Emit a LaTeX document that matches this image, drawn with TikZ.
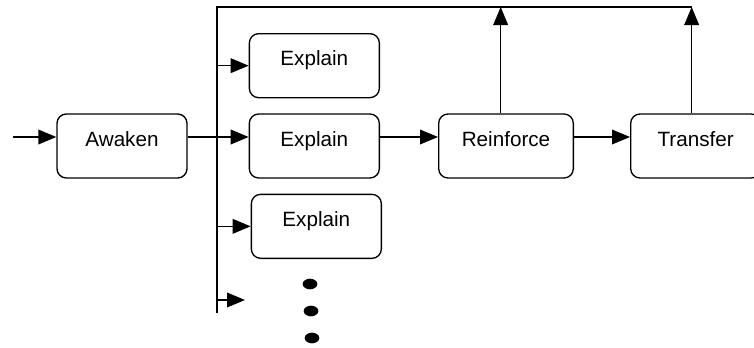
\documentclass[tikz,border=0pt]{standalone}
\usepackage{fontspec}
\setmainfont{Liberation Sans}
\usetikzlibrary{positioning,arrows.meta}

\tikzset{
    stage/.style={draw, rectangle, rounded corners=7pt, line width=1pt,
        minimum width=97.5pt, minimum height=48pt, text height=12pt, text depth=12pt,
        font=\fontsize{15.5}{18}\selectfont}
}

\begin{document}
\begin{tikzpicture}[x=0.75pt, y=-0.75pt, line width=1.1pt, >={Triangle[length=13.5pt,width=11pt]}]
    \useasboundingbox (0,0) rectangle (754,347);
    \clip (0,0) rectangle (754,347);

    % Stages
    \node[stage] (awaken) at (122,146) {Awaken};
    \node[stage, right=45.75pt of awaken] (explainb) {Explain};
    \node[stage, above=11.25pt of explainb] (explaina) {Explain};
    \node[stage, below=11.25pt of explainb, xshift=1.5pt] (explainc) {Explain};
    \node[stage, right=43.5pt of explainb, minimum width=101pt] (reinforce) {Reinforce};
    \node[stage, right=42pt of reinforce] (transfer) {Transfer};

    % Bus and free ends
    \coordinate (in) at (13,137);
    \coordinate (bustop) at (217,7);
    \coordinate (busbot) at (217,313);
    \coordinate (more) at (245,300);

    % Dots
    \fill (310,284) ellipse [x radius=5.5pt, y radius=4pt];
    \fill (311,311) ellipse [x radius=5.5pt, y radius=4pt];
    \fill (312,338) ellipse [x radius=5.5pt, y radius=4pt];

    % Connections
    \draw[->] (in) -- (in -| awaken.west);
    \draw[->] (in -| awaken.east) -- (in -| explainb.west);
    \draw (busbot) -- (bustop) -- ([xshift=-3pt]transfer.north |- bustop);
    \draw[->] (bustop |- explaina.west) -- (explaina.west);
    \draw[->] (bustop |- explainc.west) -- (explainc.west);
    \draw[->] (bustop |- more) -- (more);
    \draw[->] (in -| explainb.east) -- (in -| reinforce.west);
    \draw[->] (in -| reinforce.east) -- (in -| transfer.west);
    \draw[->] ([xshift=-4pt]reinforce.north) -- ([xshift=-4pt]reinforce.north |- bustop);
    \draw[->] ([xshift=-3pt]transfer.north) -- ([xshift=-3pt]transfer.north |- bustop);
\end{tikzpicture}
\end{document}
